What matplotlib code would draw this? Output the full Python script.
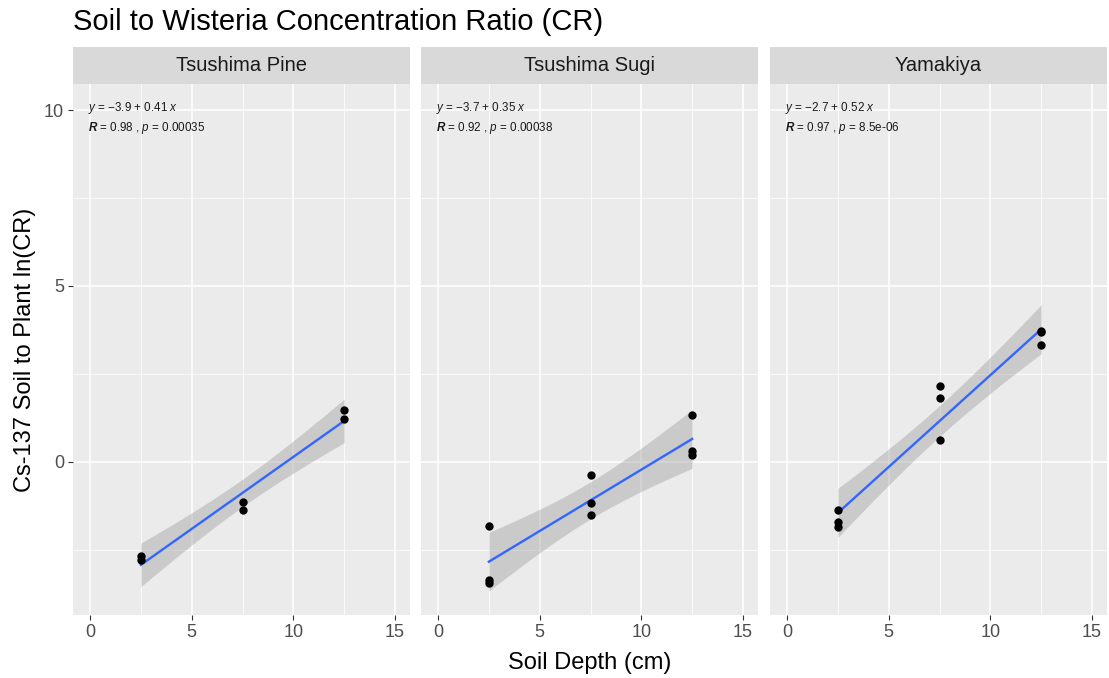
import math
import numpy as np
import matplotlib
matplotlib.use("Agg")
import matplotlib.pyplot as plt

plt.rcParams['font.family'] = ['Liberation Sans', 'DejaVu Sans']
plt.rcParams['mathtext.fontset'] = 'custom'
plt.rcParams['mathtext.rm'] = 'Liberation Sans'
plt.rcParams['mathtext.it'] = 'Liberation Sans:italic'
plt.rcParams['mathtext.bf'] = 'Liberation Sans:bold:italic'

# ---- data ----
sites = ["Tsushima Pine", "Tsushima Sugi", "Yamakiya"]
pine_depth = [2.5, 2.5, 7.5, 7.5, 12.5, 12.5]
pine_cr = [-2.68, -2.80, -1.14, -1.36, 1.48, 1.22]
sugi_depth = [2.5, 2.5, 2.5, 7.5, 7.5, 7.5, 12.5, 12.5, 12.5]
sugi_cr = [-1.82, -3.35, -3.45, -0.37, -1.16, -1.51, 1.32, 0.32, 0.20]
yama_depth = [2.5, 2.5, 2.5, 7.5, 7.5, 7.5, 12.5, 12.5, 12.5]
yama_cr = [-1.36, -1.70, -1.85, 2.17, 1.82, 0.63, 3.72, 3.70, 3.32]
site_depth = [pine_depth, sugi_depth, yama_depth]
site_cr = [pine_cr, sugi_cr, yama_cr]
eq_labels = [r"$\mathit{y}$ = $-$3.9 + 0.41 $\mathit{x}$",
             r"$\mathit{y}$ = $-$3.7 + 0.35 $\mathit{x}$",
             r"$\mathit{y}$ = $-$2.7 + 0.52 $\mathit{x}$"]
stat_labels = [r"$\mathbf{R}$ = 0.98 , $\mathit{p}$ = 0.00035",
               r"$\mathbf{R}$ = 0.92 , $\mathit{p}$ = 0.00038",
               r"$\mathbf{R}$ = 0.97 , $\mathit{p}$ = 8.5e-06"]
x_ticks = [0, 5, 10, 15]
y_ticks = [0, 5, 10]


def t_quantile(p, df):
    # numeric inverse CDF of Student t
    c = math.gamma((df + 1) / 2) / (math.sqrt(df * math.pi) * math.gamma(df / 2))
    grid = np.linspace(0, 20, 200001)
    pdf = c * (1 + grid ** 2 / df) ** (-(df + 1) / 2)
    cdf = 0.5 + np.concatenate([[0], np.cumsum((pdf[1:] + pdf[:-1]) / 2 * np.diff(grid))])
    return float(np.interp(p, cdf, grid))


W, H = 1109, 678
fig = plt.figure(figsize=(W / 100, H / 100), dpi=100)

panel_left = [73, 421, 770]
panel_w = 337
top_px, bot_px = 84, 615
strip_top = 47

for i, (site, dep, cr) in enumerate(zip(sites, site_depth, site_cr)):
    l = panel_left[i]
    ax = fig.add_axes([l / W, (H - bot_px) / H, panel_w / W, (bot_px - top_px) / H])
    ax.set_facecolor('#EBEBEB')
    for s in ax.spines.values():
        s.set_visible(False)
    ax.set_xlim(-0.84, 15.74)
    ax.set_ylim(-4.35, 10.74)
    ax.set_xticks(x_ticks)
    ax.set_yticks(y_ticks)
    ax.set_xticks([2.5, 7.5, 12.5], minor=True)
    ax.set_yticks([-2.5, 2.5, 7.5], minor=True)
    ax.grid(True, which='major', color='white', linewidth=1.1)
    ax.grid(True, which='minor', color='white', linewidth=0.55)
    ax.set_axisbelow(True)
    ax.tick_params(which='major', length=3.5, width=0.8, color='#333333',
                   labelsize=13, labelcolor='#4D4D4D', pad=3)
    ax.tick_params(which='minor', length=0)
    if i > 0:
        ax.tick_params(axis='y', labelleft=False, length=0)

    x = np.array(dep, dtype=float)
    y = np.array(cr, dtype=float)
    n = len(x)
    slope, intercept = np.polyfit(x, y, 1)
    xs = np.linspace(x.min(), x.max(), 80)
    fit = intercept + slope * xs
    resid = y - (intercept + slope * x)
    s = math.sqrt(np.sum(resid ** 2) / (n - 2))
    sxx = np.sum((x - x.mean()) ** 2)
    se = s * np.sqrt(1 / n + (xs - x.mean()) ** 2 / sxx)
    tq = t_quantile(0.975, n - 2)
    ax.fill_between(xs, fit - tq * se, fit + tq * se, color='#999999', alpha=0.4,
                    linewidth=0, zorder=2)
    ax.plot(xs, fit, color='#3366FF', linewidth=1.7, zorder=3)
    ax.scatter(x, y, s=36, color='black', zorder=4, linewidths=0)

    ax.text(-0.1, 10.05, eq_labels[i], fontsize=8.4, color='#1A1A1A',
            ha='left', va='center')
    ax.text(-0.1, 9.5, stat_labels[i], fontsize=8.4, color='#1A1A1A',
            ha='left', va='center')

    # strip
    sax = fig.add_axes([l / W, (H - top_px) / H, panel_w / W, (top_px - strip_top) / H])
    sax.set_facecolor('#D9D9D9')
    sax.set_xticks([])
    sax.set_yticks([])
    for sp in sax.spines.values():
        sp.set_visible(False)
    sax.text(0.5, 0.5, site, transform=sax.transAxes, ha='center', va='center',
             fontsize=14.5, color='#1A1A1A')

fig.text(73 / W, 1 - 22 / H, "Soil to Wisteria Concentration Ratio (CR)",
         fontsize=21, ha='left', va='center', color='black')
fig.text(589.5 / W, 1 - 663 / H, "Soil Depth (cm)", fontsize=17,
         ha='center', va='center', color='black')
fig.text(25 / W, 1 - ((top_px + bot_px) / 2) / H, "Cs-137 Soil to Plant ln(CR)",
         fontsize=17, ha='center', va='center', rotation=90, color='black')

fig.savefig("out.png", dpi=100, facecolor='white')
